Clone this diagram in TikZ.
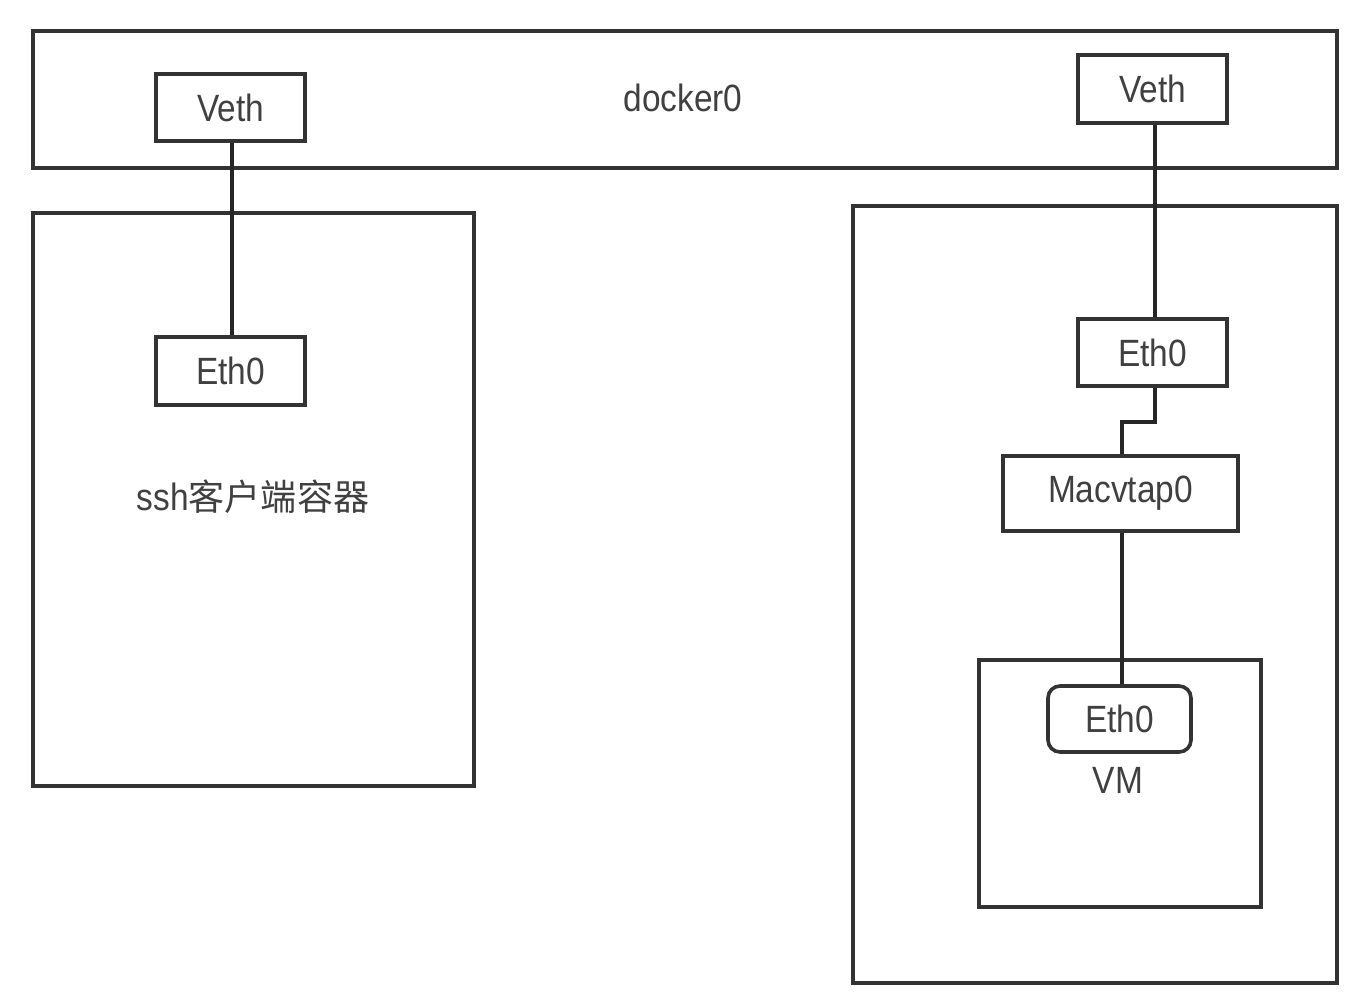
\documentclass[tikz,border=0pt]{standalone}
\usepackage{fontspec}
\setmainfont{Liberation Sans}[FakeStretch=0.88]
\newfontfamily\cjk{Noto Sans CJK SC}[Scale=0.95]
\begin{document}
\begin{tikzpicture}[x=0.5pt,y=-0.5pt,
  box/.style={draw=black!80,line width=1.8pt,inner sep=0pt,font=\fontsize{19}{22}\selectfont,text=black!75},
  lbl/.style={font=\fontsize{19}{22}\selectfont,text=black!75,inner sep=0pt},
  wire/.style={draw=black!85,line width=1.8pt}]
\useasboundingbox (0,0) rectangle (1370,1002);
% frames
\node[box,minimum width=1304*0.5pt,minimum height=137*0.5pt] (docker) at (685,99.5) {};
\node[lbl] (dockerlbl) at (683,98) {docker0};
\node[box,minimum width=441*0.5pt,minimum height=573*0.5pt] (ssh) at (253.5,499.5) {};
\node[lbl] (sshlbl) at (253,497) {ssh{\cjk 客户端容器}};
\node[box,minimum width=484*0.5pt,minimum height=777*0.5pt] (host) at (1095,594.5) {};
\node[box,minimum width=282*0.5pt,minimum height=247*0.5pt] (vm) at (1120,783.5) {};
\node[lbl] (vmlbl) at (1118,780) {VM};
% interface boxes
\node[box,minimum width=149*0.5pt,minimum height=67*0.5pt] (vethL) at (230.5,107.5) {Veth};
\node[box,minimum width=149*0.5pt,minimum height=68*0.5pt] (vethR) at (1152.5,89) {Veth};
\node[box,minimum width=149*0.5pt,minimum height=68*0.5pt] (ethL) at (230.5,371) {Eth0};
\node[box,minimum width=149*0.5pt,minimum height=67*0.5pt] (ethR) at (1152.5,352.5) {Eth0};
\node[box,minimum width=235*0.5pt,minimum height=75*0.5pt] (mac) at (1120.5,493.5) {Macvtap0};
\node[box,rounded corners=6pt,minimum width=143*0.5pt,minimum height=66*0.5pt] (ethVM) at (1119.5,719) {Eth0};
% connectors
\draw[wire] (vethL.south -| 232,0) -- (ethL.north -| 232,0);
\draw[wire] (vethR.south -| 1155,0) -- (ethR.north -| 1155,0);
\coordinate (j1) at (1155,422);
\coordinate (j2) at (1122,422);
\draw[wire] (ethR.south -| 1155,0) -- (j1) -- (j2) -- (mac.north -| 1122,0);
\draw[wire] (mac.south -| 1122,0) -- (ethVM.north -| 1122,0);
\end{tikzpicture}
\end{document}
